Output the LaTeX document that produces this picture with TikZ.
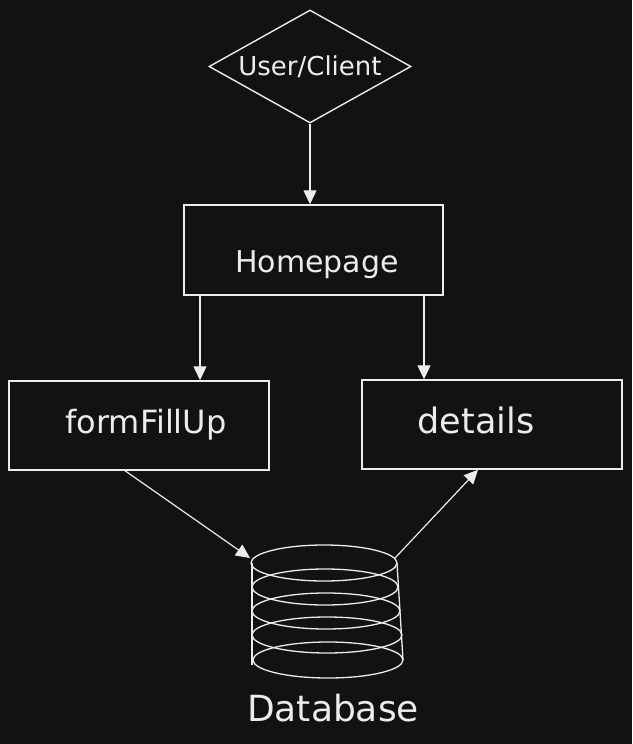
\documentclass[tikz,border=0pt]{standalone}
\usepackage{fontspec}
\setmainfont{DejaVu Sans}
\usetikzlibrary{shapes.geometric,arrows.meta}
\definecolor{bg}{HTML}{121212}
\definecolor{ink}{HTML}{ECECEC}
\begin{document}
\begin{tikzpicture}[x=1pt,y=-1pt,
  stroke/.style={draw=ink,line width=1.4pt},
  box/.style={stroke,minimum width=260pt,minimum height=89pt,inner sep=0pt},
  lbl/.style={text=ink,inner sep=0pt,anchor=base},
  arr/.style={draw=ink,line width=1.2pt,-{Triangle[length=14pt,width=13pt]}},
  ring/.style={draw=ink,line width=1.3pt}]
\fill[bg] (0,0) rectangle (632,744);
\useasboundingbox (0,0) rectangle (632,744);
% nodes
\node[stroke,diamond,minimum width=202pt,minimum height=113pt,inner sep=0pt] (user) at (310,66.5) {};
\node[lbl,font=\fontsize{26}{30}\selectfont] (usert) at (310,75) {User/Client};
\node[box,minimum width=259pt,minimum height=90pt] (home) at (313.5,250) {};
\node[lbl,font=\fontsize{30}{34}\selectfont] (homet) at (317,272) {Homepage};
\node[box] (ff) at (139,425.5) {};
\node[lbl,font=\fontsize{32}{36}\selectfont] (fft) at (146,433) {formFillUp};
\node[box] (det) at (492,424.5) {};
\node[lbl,font=\fontsize{35}{39}\selectfont] (dett) at (476,433) {details};
% database
\node[minimum width=151pt,minimum height=133pt,inner sep=0pt] (db) at (327,611.5) {};
\foreach \cx/\cy/\rx in {324/563/73,325/587/73,326/611/74,327/635/75,328/660/75}
  \draw[ring] (\cx,\cy) ellipse [x radius=\rx pt,y radius=18pt];
\draw[ring] (252,563) -- (252,665);
\draw[ring] (397,563) -- (403,660);
\node[lbl,font=\fontsize{36}{40}\selectfont] (dbt) at (333,721) {Database};
\coordinate (dbin) at (250,558);
\coordinate (dbout) at (395,558);
% connectors
\draw[arr] (user.south) -- (user.south |- home.north);
\draw[arr] ([xshift=-113.5pt]home.south) -- ([xshift=-113.5pt]home.south |- ff.north);
\draw[arr] ([xshift=110.5pt]home.south) -- ([xshift=110.5pt]home.south |- det.north);
\draw[arr] ([xshift=-14pt]ff.south) -- (dbin);
\draw[arr] (dbout) -- ([xshift=-14pt]det.south);
\end{tikzpicture}
\end{document}
